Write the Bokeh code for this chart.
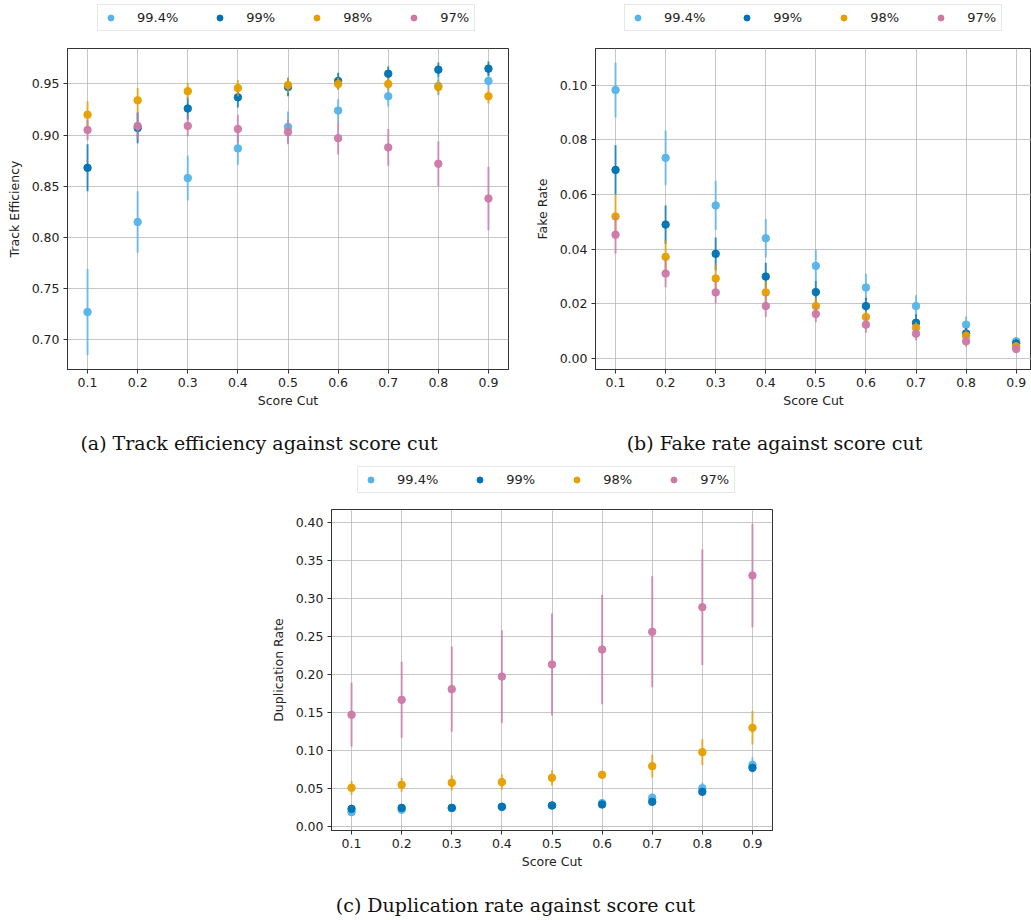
from bokeh.plotting import figure
from bokeh.layouts import column, row
from bokeh.models import (ColumnDataSource, Range1d, FixedTicker, NumeralTickFormatter,
                          Legend, LegendItem, Div)
from bokeh.embed import file_html
from bokeh.resources import INLINE

# ---------------- data ----------------
score_cuts = [0.1, 0.2, 0.3, 0.4, 0.5, 0.6, 0.7, 0.8, 0.9]
series_labels = ["99.4%", "99%", "98%", "97%"]
series_colors = ["#56B4E9", "#0072B2", "#E69F00", "#CC79A7"]

eff_994 = [0.727, 0.815, 0.858, 0.887, 0.908, 0.924, 0.938, 0.948, 0.953]
eff_994_err = [0.042, 0.030, 0.022, 0.016, 0.015, 0.011, 0.010, 0.009, 0.008]
eff_99 = [0.868, 0.907, 0.926, 0.937, 0.947, 0.953, 0.960, 0.964, 0.965]
eff_99_err = [0.023, 0.015, 0.011, 0.010, 0.009, 0.008, 0.007, 0.007, 0.007]
eff_98 = [0.920, 0.934, 0.943, 0.946, 0.949, 0.950, 0.950, 0.947, 0.938]
eff_98_err = [0.013, 0.012, 0.008, 0.008, 0.007, 0.006, 0.006, 0.007, 0.007]
eff_97 = [0.905, 0.909, 0.909, 0.906, 0.903, 0.897, 0.888, 0.872, 0.838]
eff_97_err = [0.010, 0.013, 0.010, 0.014, 0.012, 0.016, 0.018, 0.022, 0.031]

fake_994 = [0.0982, 0.0734, 0.0560, 0.0440, 0.0339, 0.0260, 0.0192, 0.0124, 0.0063]
fake_994_err = [0.010, 0.010, 0.009, 0.007, 0.006, 0.005, 0.004, 0.003, 0.0015]
fake_99 = [0.069, 0.049, 0.0383, 0.030, 0.0243, 0.0192, 0.0131, 0.0092, 0.0055]
fake_99_err = [0.009, 0.007, 0.006, 0.005, 0.004, 0.003, 0.003, 0.002, 0.0015]
fake_98 = [0.052, 0.0372, 0.0293, 0.0242, 0.0192, 0.0152, 0.0113, 0.0083, 0.0045]
fake_98_err = [0.008, 0.006, 0.005, 0.004, 0.003, 0.002, 0.002, 0.002, 0.001]
fake_97 = [0.0453, 0.0311, 0.0242, 0.0192, 0.0163, 0.0124, 0.0091, 0.0063, 0.0035]
fake_97_err = [0.007, 0.005, 0.004, 0.004, 0.003, 0.003, 0.0025, 0.002, 0.0015]

dup_994 = [0.0188, 0.022, 0.024, 0.026, 0.0276, 0.0307, 0.0377, 0.0504, 0.081]
dup_994_err = [0.004, 0.004, 0.004, 0.004, 0.004, 0.005, 0.006, 0.007, 0.010]
dup_99 = [0.0232, 0.0245, 0.0245, 0.0258, 0.0276, 0.0289, 0.0324, 0.0456, 0.0771]
dup_99_err = [0.004, 0.004, 0.003, 0.003, 0.003, 0.003, 0.003, 0.004, 0.005]
dup_98 = [0.0508, 0.0548, 0.0574, 0.0583, 0.064, 0.0679, 0.0793, 0.0977, 0.1297]
dup_98_err = [0.009, 0.009, 0.010, 0.010, 0.010, 0.004, 0.015, 0.017, 0.022]
dup_97 = [0.1468, 0.1665, 0.1805, 0.197, 0.213, 0.2326, 0.2559, 0.2883, 0.3299]
dup_97_err = [0.042, 0.050, 0.056, 0.061, 0.067, 0.072, 0.073, 0.076, 0.068]

x_ticks = score_cuts
eff_ticks = [0.70, 0.75, 0.80, 0.85, 0.90, 0.95]
fake_ticks = [0.00, 0.02, 0.04, 0.06, 0.08, 0.10]
dup_ticks = [0.00, 0.05, 0.10, 0.15, 0.20, 0.25, 0.30, 0.35, 0.40]

captions = ["(a) Track efficiency against score cut",
            "(b) Fake rate against score cut",
            "(c) Duplication rate against score cut"]

TICK_FONT = "DejaVu Sans"
FRAME_H = 321


def make_panel(values, errors, y_label, y_ticks, y_fmt, x_end, y_start, y_end,
               b_left, b_right, b_top, b_bottom, frame_w):
    p = figure(frame_width=frame_w, frame_height=FRAME_H,
               min_border_left=b_left, min_border_right=b_right,
               min_border_top=b_top, min_border_bottom=b_bottom,
               x_range=Range1d(0.06, x_end), y_range=Range1d(y_start, y_end),
               output_backend="svg", toolbar_location=None,
               background_fill_color="white", border_fill_color="white")
    p.outline_line_color = "#333333"
    p.outline_line_width = 1
    for ax in (p.xaxis[0], p.yaxis[0]):
        ax.axis_line_color = "#333333"
        ax.major_tick_line_color = "#333333"
        ax.major_tick_out = 4
        ax.major_tick_in = 0
        ax.minor_tick_line_color = None
        ax.major_label_text_font = TICK_FONT
        ax.major_label_text_font_size = "12.5px"
        ax.major_label_text_color = "#222222"
        ax.axis_label_text_font = TICK_FONT
        ax.axis_label_text_font_size = "12.5px"
        ax.axis_label_text_font_style = "normal"
        ax.axis_label_text_color = "#222222"
        ax.major_label_standoff = 4
    p.xaxis[0].ticker = FixedTicker(ticks=x_ticks)
    p.xaxis[0].formatter = NumeralTickFormatter(format="0.0")
    p.xaxis[0].axis_label = "Score Cut"
    p.xaxis[0].axis_label_standoff = 3
    p.yaxis[0].ticker = FixedTicker(ticks=y_ticks)
    p.yaxis[0].formatter = NumeralTickFormatter(format=y_fmt)
    p.yaxis[0].axis_label = y_label
    p.yaxis[0].axis_label_standoff = 7
    for g in (p.xgrid[0], p.ygrid[0]):
        g.grid_line_color = "#b8b8b8"
        g.grid_line_width = 1
        g.grid_line_alpha = 0.8
    p.xgrid[0].ticker = FixedTicker(ticks=x_ticks)
    p.ygrid[0].ticker = FixedTicker(ticks=y_ticks)

    for vals, errs, col in zip(values, errors, series_colors):
        src = ColumnDataSource(dict(
            x=score_cuts, y=vals,
            lo=[v - e for v, e in zip(vals, errs)],
            hi=[v + e for v, e in zip(vals, errs)]))
        p.segment(x0="x", y0="lo", x1="x", y1="hi", source=src,
                  line_color=col, line_width=2, line_alpha=0.75)
        p.scatter(x="x", y="y", source=src, size=7.5, marker="circle",
                  fill_color=col, line_color=col, fill_alpha=0.95, line_alpha=0.95)
    return p


def make_legend_strip(width, height, leg_x, leg_y):
    """A frame-only strip that carries the horizontal legend above a panel."""
    lf = figure(width=width, height=height, min_border=0,
                x_axis_type=None, y_axis_type=None,
                x_range=Range1d(0, 1), y_range=Range1d(0, 1),
                output_backend="svg", toolbar_location=None,
                background_fill_color="white", border_fill_color="white")
    lf.outline_line_color = None
    lf.grid.visible = False
    items = []
    for lab, col in zip(series_labels, series_colors):
        r = lf.scatter(x=[float("nan")], y=[float("nan")], size=7.5, marker="circle",
                       fill_color=col, line_color=col)
        items.append(LegendItem(label=lab, renderers=[r]))
    leg = Legend(items=items, orientation="horizontal", location=(leg_x, leg_y),
                 label_text_font=TICK_FONT, label_text_font_size="13px",
                 label_text_color="#222222",
                 glyph_width=15, glyph_height=15, label_height=15,
                 label_standoff=19, spacing=34, padding=5, margin=0,
                 border_line_color="#d0d0d0", border_line_width=1,
                 background_fill_color="white", background_fill_alpha=1.0)
    lf.add_layout(leg, "center")
    return lf


leg_a = make_legend_strip(518, 47, 97, 16)
leg_b = make_legend_strip(513, 47, 106, 16)
# this strip shares its column with fig_c, so its frame is aligned to fig_c's frame
leg_c = make_legend_strip(1031, 46, 26, 15)

fig_a = make_panel([eff_994, eff_99, eff_98, eff_97],
                   [eff_994_err, eff_99_err, eff_98_err, eff_97_err],
                   "Track Efficiency", eff_ticks, "0.00", 0.94, 0.6708, 0.9847,
                   67, 10, 1, 51, 441)
fig_b = make_panel([fake_994, fake_99, fake_98, fake_97],
                   [fake_994_err, fake_99_err, fake_98_err, fake_97_err],
                   "Fake Rate", fake_ticks, "0.00", 0.9306, -0.0040, 0.1134,
                   77, 0, 1, 51, 436)
fig_c = make_panel([dup_994, dup_99, dup_98, dup_97],
                   [dup_994_err, dup_99_err, dup_98_err, dup_97_err],
                   "Duplication Rate", dup_ticks, "0.00", 0.94, -0.0053, 0.4167,
                   331, 259, 1, 50, 441)


def caption(text, w, h, pad):
    html = ('<div style="width:%dpx;text-align:center;font-family:\'DejaVu Serif\',serif;'
            'font-size:19px;line-height:22px;color:#111;padding-top:%dpx;margin:0">%s</div>'
            % (w, pad, text))
    return Div(text=html, width=w, height=h, margin=0)


cap_a = caption(captions[0], 518, 42, 12)
cap_b = caption(captions[1], 513, 42, 12)
cap_c = caption(captions[2], 1031, 40, 14)

layout = column(row(leg_a, leg_b, spacing=0),
                row(fig_a, fig_b, spacing=0),
                row(cap_a, cap_b, spacing=0),
                leg_c, fig_c, cap_c, spacing=0)

open("out.html", "w").write(file_html(layout, INLINE))
